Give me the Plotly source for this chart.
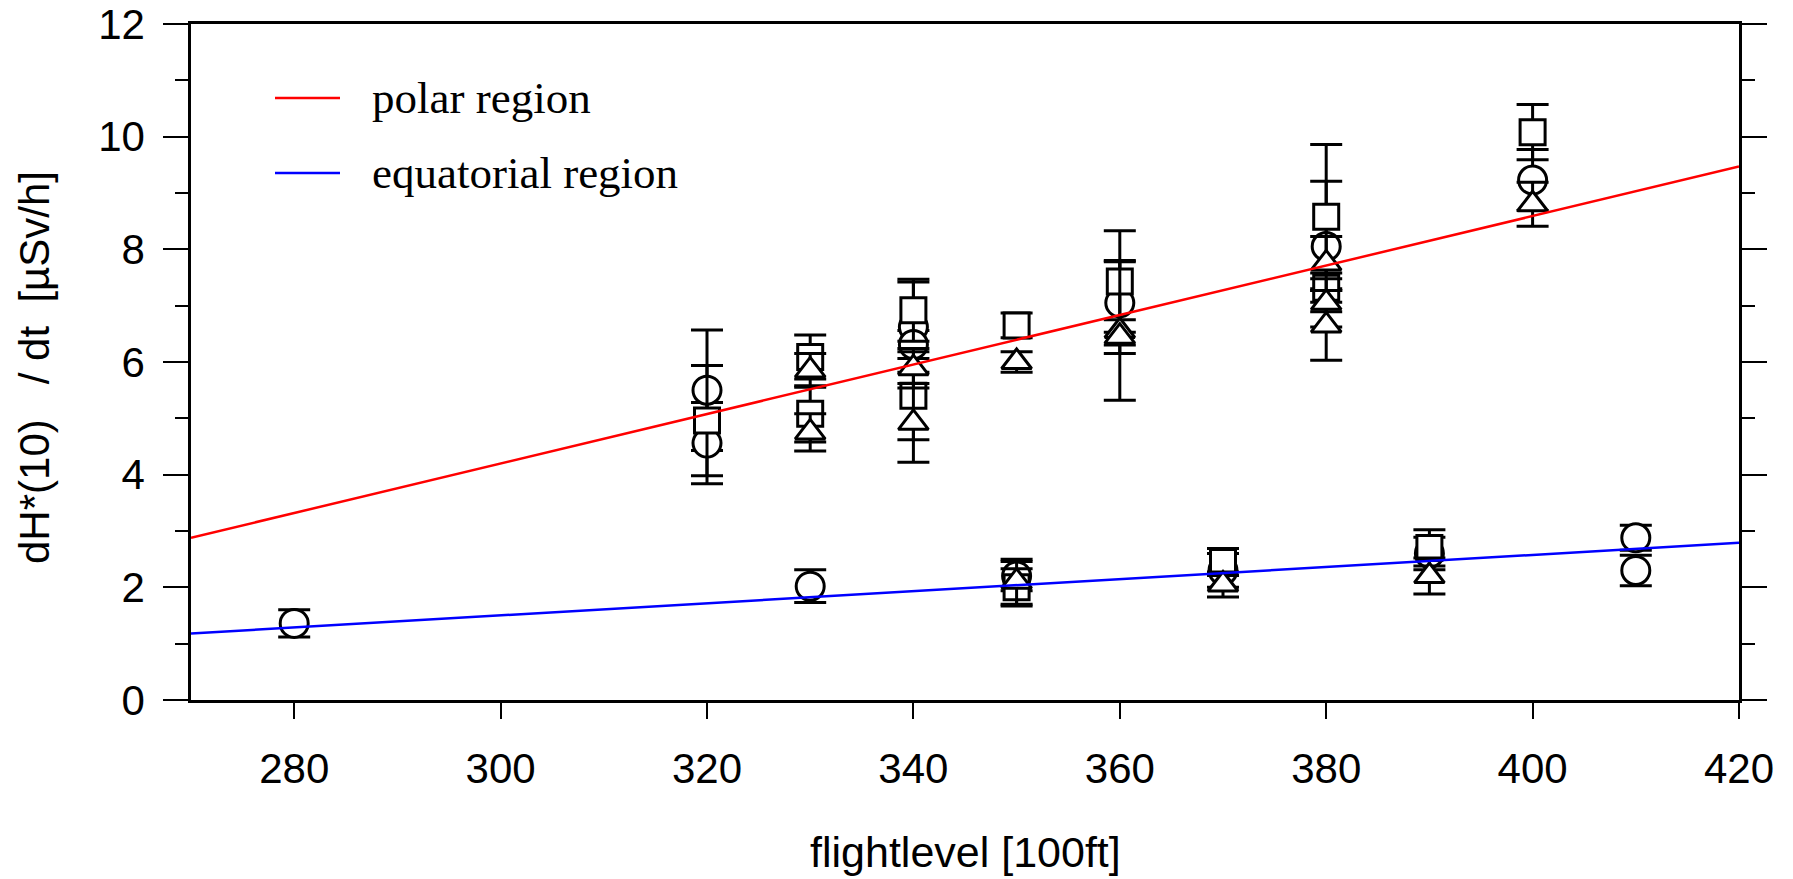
import plotly.graph_objects as go

# ---------------- data ----------------
# polar region measurements
pol_circle_x = [320, 320, 340, 340, 360, 380, 400]
pol_circle_y = [5.50, 4.56, 6.62, 6.31, 7.05, 8.05, 9.23]
pol_circle_e = [1.07, 0.72, 0.80, 0.25, 0.75, 1.16, 0.54]

pol_square_x = [320, 330, 330, 340, 340, 350, 360, 380, 380, 400]
pol_square_y = [4.96, 6.09, 5.08, 6.92, 5.40, 6.65, 7.43, 8.58, 7.32, 10.08]
pol_square_e = [0.98, 0.39, 0.50, 0.55, 0.78, 0.22, 0.90, 1.28, 0.26, 0.49]

pol_tri_x = [330, 330, 340, 340, 350, 360, 360, 380, 380, 380, 400]
pol_tri_y = [5.85, 4.75, 5.89, 4.92, 6.00, 6.55, 6.45, 7.75, 7.05, 6.65, 8.80]
pol_tri_e = [0.30, 0.33, 0.35, 0.70, 0.18, 1.23, 0.30, 0.48, 0.43, 0.62, 0.39]

# equatorial region measurements
eq_circle_x = [280, 330, 350, 370, 390, 410, 410]
eq_circle_y = [1.36, 2.02, 2.20, 2.30, 2.60, 2.88, 2.30]
eq_circle_e = [0.24, 0.29, 0.26, 0.30, 0.29, 0.22, 0.27]

eq_square_x = [350, 370, 390]
eq_square_y = [2.00, 2.45, 2.70]
eq_square_e = [0.33, 0.24, 0.32]

eq_tri_x = [350, 370, 390]
eq_tri_y = [2.10, 2.05, 2.20]
eq_tri_e = [0.40, 0.22, 0.32]

# linear fits
fit_x = [270, 420]
polar_fit = [2.88, 9.47]
equatorial_fit = [1.18, 2.79]

legend_labels = ["polar region", "equatorial region"]
x_ticks = [280, 300, 320, 340, 360, 380, 400, 420]
y_ticks = [0, 2, 4, 6, 8, 10, 12]

# ---------------- figure ----------------
fig = go.Figure()

def add_points(xs, ys, es, symbol, size):
    fig.add_trace(go.Scatter(
        x=xs, y=ys, mode="markers", showlegend=False,
        marker=dict(symbol=symbol, size=size, color="white",
                    line=dict(color="black", width=3)),
        error_y=dict(type="data", array=es, visible=True,
                     color="black", thickness=3, width=16),
    ))

add_points(pol_circle_x + eq_circle_x, pol_circle_y + eq_circle_y,
           pol_circle_e + eq_circle_e, "circle", 28)
add_points(pol_square_x + eq_square_x, pol_square_y + eq_square_y,
           pol_square_e + eq_square_e, "square", 25)
add_points(pol_tri_x + eq_tri_x, pol_tri_y + eq_tri_y,
           pol_tri_e + eq_tri_e, "triangle-up", 26)

fig.add_trace(go.Scatter(x=fit_x, y=polar_fit, mode="lines",
                         line=dict(color="red", width=2.5), showlegend=False))
fig.add_trace(go.Scatter(x=fit_x, y=equatorial_fit, mode="lines",
                         line=dict(color="blue", width=2.5), showlegend=False))

W, H = 1793, 879
L, R, T, B = 191, 54, 24, 179
pw, ph = W - L - R, H - T - B

def px2paper_x(px):
    return (px - L) / pw

def px2paper_y(py):
    return (H - B - py) / ph

# legend drawn manually
leg_colors = ["red", "blue"]
leg_y = [98, 173]
for lab, col, yy in zip(legend_labels, leg_colors, leg_y):
    fig.add_shape(type="line", xref="paper", yref="paper",
                  x0=px2paper_x(275), x1=px2paper_x(340),
                  y0=px2paper_y(yy), y1=px2paper_y(yy),
                  line=dict(color=col, width=2.5))
    fig.add_annotation(xref="paper", yref="paper",
                       x=px2paper_x(370), y=px2paper_y(yy),
                       xanchor="left", yanchor="middle", showarrow=False,
                       text=lab,
                       font=dict(family="Liberation Serif, Times New Roman, serif",
                                 size=45, color="black"))

# axis titles
fig.add_annotation(xref="paper", yref="paper",
                   x=px2paper_x(965), y=px2paper_y(826),
                   xanchor="center", yanchor="top", showarrow=False,
                   text="flightlevel [100ft]",
                   font=dict(family="Liberation Sans, Arial, sans-serif", size=43, color="black"))
fig.add_annotation(xref="paper", yref="paper",
                   x=px2paper_x(35), y=px2paper_y(368),
                   xanchor="center", yanchor="middle", showarrow=False,
                   textangle=-90,
                   text="dH*(10)\u00a0\u00a0\u00a0/ dt\u00a0\u00a0[µSv/h]",
                   font=dict(family="Liberation Sans, Arial, sans-serif", size=42, color="black"))

axis_font = dict(family="Liberation Sans, Arial, sans-serif", size=42, color="black")

fig.update_layout(
    width=W, height=H,
    margin=dict(l=L, r=R, t=T, b=B, autoexpand=False),
    paper_bgcolor="white", plot_bgcolor="white",
    xaxis=dict(range=[270, 420], tickvals=x_ticks, ticks="outside", ticklen=16,
               tickwidth=2, tickcolor="black", showline=True, linecolor="black",
               linewidth=2.5, mirror=True, showgrid=False, zeroline=False,
               tickfont=axis_font, ticklabelstandoff=14),
    yaxis=dict(range=[0, 12], tickvals=y_ticks, ticks="outside", ticklen=25,
               tickwidth=2, tickcolor="black", showline=True, linecolor="black",
               linewidth=2.5, mirror="ticks", showgrid=False, zeroline=False,
               tickfont=axis_font, ticklabelstandoff=10,
               minor=dict(dtick=1, ticks="outside", ticklen=13, tickwidth=2,
                          tickcolor="black", showgrid=False)),
)

fig.write_html("out.html")
